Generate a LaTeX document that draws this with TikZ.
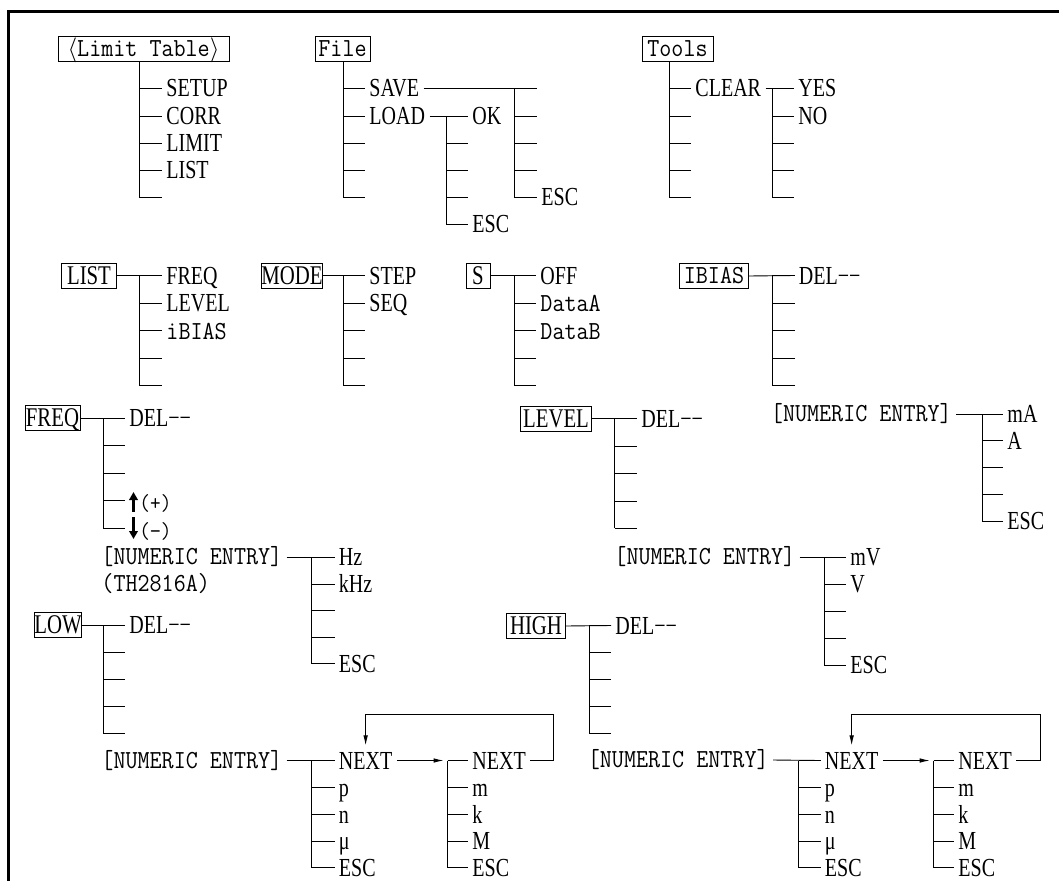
\documentclass[tikz,border=0pt]{standalone}
\usepackage{fontspec}
\setmainfont{Liberation Serif}[FakeStretch=0.77]
\setmonofont{Latin Modern Mono}[FakeStretch=0.9]
\usetikzlibrary{arrows.meta}

\begin{document}
\begin{tikzpicture}[x=1pt, y=-1pt, line width=0.9pt,
    box/.style={draw, line width=0.7pt, minimum height=25pt, inner sep=0pt,
      text height=17.9pt, text depth=0pt, font=\fontsize{27}{30}\selectfont},
    mbox/.style={box, text height=15.9pt, font=\ttfamily\fontsize{26}{30}\selectfont},
    item/.style={anchor=west, inner xsep=4pt, inner ysep=0pt,
      text height=17.2pt, text depth=0pt, font=\fontsize{26}{30}\selectfont},
    num/.style={item, text height=15.9pt, font=\ttfamily\fontsize{26}{30}\selectfont},
    sign/.style={item, inner xsep=2pt, text height=14pt, font=\ttfamily\fontsize{23}{25}\selectfont},
    nextarrow/.style={-{Latex[length=10pt,width=4.5pt]}},
    fatarrow/.style={line width=2.8pt, -{Triangle[length=8pt,width=8.5pt]}}]
  \useasboundingbox (0,0) rectangle (1059,881);

  % frame
  \draw[line width=3pt] (1059,11.5) -- (8.5,11.5) -- (8.5,881);

  % <Limit Table> menu
  \node[mbox, minimum width=171pt] (limtab) at (143.5,49) {$\langle$Limit Table$\rangle$};
  \coordinate (limtab-s) at (139,62);
  \foreach \y/\lab [count=\i] in {88/SETUP,116/CORR,143/LIMIT,170/LIST,197/{}} {
    \node[item] (limtab-\i) at (162,\y) {\lab};
    \draw (limtab-s |- limtab-\i.west) -- (limtab-\i.west);
  }
  \draw (limtab-s) -- (limtab-s |- limtab-5.west);

  % File menu
  \node[mbox, minimum width=55pt] (file) at (342.5,49) {File};
  \coordinate (file-s) at (343,62);
  \foreach \y/\lab [count=\i] in {88/SAVE,116/LOAD,143/{},170/{},197/{}} {
    \node[item] (file-\i) at (365,\y) {\lab};
    \draw (file-s |- file-\i.west) -- (file-\i.west);
  }
  \draw (file-s) -- (file-s |- file-5.west);

  % SAVE
  \coordinate (save-s) at (514,88);
  \foreach \y/\lab [count=\i] in {88/{},116/{},143/{},170/{},197/ESC} {
    \node[item] (save-\i) at (537,\y) {\lab};
    \draw (save-s |- save-\i.west) -- (save-\i.west);
  }
  \draw (file-1.east) -- (save-1.west);
  \draw (save-s) -- (save-s |- save-5.west);

  % LOAD
  \coordinate (load-s) at (446,116);
  \foreach \y/\lab [count=\i] in {116/OK,143/{},170/{},197/{},224/ESC} {
    \node[item] (load-\i) at (468,\y) {\lab};
    \draw (load-s |- load-\i.west) -- (load-\i.west);
  }
  \draw (file-2.east) -- (load-1.west);
  \draw (load-s) -- (load-s |- load-5.west);

  % Tools menu
  \node[mbox, minimum width=71pt] (tools) at (677.5,49) {Tools};
  \coordinate (tools-s) at (669,62);
  \foreach \y/\lab [count=\i] in {88/CLEAR,116/{},143/{},170/{},197/{}} {
    \node[item] (tools-\i) at (691,\y) {\lab};
    \draw (tools-s |- tools-\i.west) -- (tools-\i.west);
  }
  \draw (tools-s) -- (tools-s |- tools-5.west);

  % CLEAR
  \coordinate (clear-s) at (772,88);
  \foreach \y/\lab [count=\i] in {88/YES,116/NO,143/{},170/{},197/{}} {
    \node[item] (clear-\i) at (794,\y) {\lab};
    \draw (clear-s |- clear-\i.west) -- (clear-\i.west);
  }
  \draw (tools-1.east) -- (clear-1.west);
  \draw (clear-s) -- (clear-s |- clear-5.west);

  % LIST
  \node[box, minimum width=54.5pt] (list) at (89,275.5) {LIST};
  \coordinate (list-s) at (139.5,275.5);
  \foreach \y/\lab [count=\i] in {275.5/FREQ,303/LEVEL,330.5/{\ttfamily iBIAS},358/{},385.5/{}} {
    \node[item] (list-\i) at (162,\y) {\lab};
    \draw (list-s |- list-\i.west) -- (list-\i.west);
  }
  \draw (list.east) -- (list-1.west);
  \draw (list-s) -- (list-s |- list-5.west);

  % MODE
  \node[box, minimum width=54.5pt] (mode) at (292,275.5) {MODE};
  \coordinate (mode-s) at (343,275.5);
  \foreach \y/\lab [count=\i] in {275.5/STEP,303/SEQ,330.5/{},358/{},385.5/{}} {
    \node[item] (mode-\i) at (365,\y) {\lab};
    \draw (mode-s |- mode-\i.west) -- (mode-\i.west);
  }
  \draw (mode.east) -- (mode-1.west);
  \draw (mode-s) -- (mode-s |- mode-5.west);

  % S
  \node[box, minimum width=24pt] (sfun) at (478,275.5) {S};
  \coordinate (sfun-s) at (514,275.5);
  \foreach \y/\lab [count=\i] in {275.5/OFF,303/{\ttfamily DataA},330.5/{\ttfamily DataB},358/{},385.5/{}} {
    \node[item] (sfun-\i) at (536,\y) {\lab};
    \draw (sfun-s |- sfun-\i.west) -- (sfun-\i.west);
  }
  \draw (sfun.east) -- (sfun-1.west);
  \draw (sfun-s) -- (sfun-s |- sfun-5.west);

  % IBIAS
  \node[mbox, minimum width=68.6pt] (ibias) at (714,276) {IBIAS};
  \coordinate (ibias-s) at (772,275.5);
  \foreach \y/\lab [count=\i] in {275.5/DEL−−,303/{},330.5/{},358/{},385.5/{}} {
    \node[item] (ibias-\i) at (794.5,\y) {\lab};
    \draw (ibias-s |- ibias-\i.west) -- (ibias-\i.west);
  }
  \draw (ibias.east) -- (ibias-1.west);
  \draw (ibias-s) -- (ibias-s |- ibias-5.west);

  % IBIAS numeric entry
  \node[num] (inum) at (766.5,414) {[NUMERIC ENTRY]};
  \coordinate (ia-s) at (982,414);
  \foreach \y/\lab [count=\i] in {414/mA,440.5/A,467/{},494/{},521/ESC} {
    \node[item] (ia-\i) at (1003,\y) {\lab};
    \draw (ia-s |- ia-\i.west) -- (ia-\i.west);
  }
  \draw (inum.east) -- (ia-1.west);
  \draw (ia-s) -- (ia-s |- ia-5.west);

  % FREQ
  \node[box, minimum width=55pt] (freq) at (52.5,418) {FREQ};
  \coordinate (freq-s) at (103,418);
  \foreach \y/\lab [count=\i] in {418/DEL−−,445.5/{},473/{},500.5/{},528/{}} {
    \node[item] (freq-\i) at (125,\y) {\lab};
    \draw (freq-s |- freq-\i.west) -- (freq-\i.west);
  }
  \draw (freq.east) -- (freq-1.west);
  \draw (freq-s) -- (freq-s |- freq-5.west);
  \draw[fatarrow] ([xshift=8.5pt,yshift=-11pt]freq-4.west) -- ([xshift=8.5pt,yshift=8.5pt]freq-4.west);
  \draw[fatarrow] ([xshift=8.5pt,yshift=11pt]freq-5.west) -- ([xshift=8.5pt,yshift=-11pt]freq-5.west);
  \node[sign] (plus) at ([xshift=12pt,yshift=-3pt]freq-4.west) {(+)};
  \node[sign] (minus) at ([xshift=12pt,yshift=-3pt]freq-5.west) {(−)};

  % FREQ numeric entry
  \node[num] (fnum) at (97,557) {[NUMERIC ENTRY]};
  \node[num] (fmodel) at (97,584) {(TH2816A)};
  \coordinate (fhz-s) at (311,557);
  \foreach \y/\lab [count=\i] in {557/Hz,584/kHz,610.5/{},637/{},663.5/ESC} {
    \node[item] (fhz-\i) at (334.5,\y) {\lab};
    \draw (fhz-s |- fhz-\i.west) -- (fhz-\i.west);
  }
  \draw (fnum.east) -- (fhz-1.west);
  \draw (fhz-s) -- (fhz-s |- fhz-5.west);

  % LEVEL
  \node[box, minimum width=70.5pt] (level) at (556,418.5) {LEVEL};
  \coordinate (level-s) at (614.5,418.5);
  \foreach \y/\lab [count=\i] in {418.5/DEL−−,446/{},473.5/{},501/{},528/{}} {
    \node[item] (level-\i) at (637,\y) {\lab};
    \draw (level-s |- level-\i.west) -- (level-\i.west);
  }
  \draw (level.east) -- (level-1.west);
  \draw (level-s) -- (level-s |- level-5.west);

  % LEVEL numeric entry
  \node[num] (lnum) at (610,557) {[NUMERIC ENTRY]};
  \coordinate (lv-s) at (824,557);
  \foreach \y/\lab [count=\i] in {557/mV,584/V,611/{},638/{},665/ESC} {
    \node[item] (lv-\i) at (846,\y) {\lab};
    \draw (lv-s |- lv-\i.west) -- (lv-\i.west);
  }
  \draw (lnum.east) -- (lv-1.west);
  \draw (lv-s) -- (lv-s |- lv-5.west);

  % LOW
  \node[box, minimum width=44.5pt] (low) at (58,625) {LOW};
  \coordinate (low-s) at (103,625);
  \foreach \y/\lab [count=\i] in {625/DEL−−,652/{},679/{},706/{},733/{}} {
    \node[item] (low-\i) at (125,\y) {\lab};
    \draw (low-s |- low-\i.west) -- (low-\i.west);
  }
  \draw (low.east) -- (low-1.west);
  \draw (low-s) -- (low-s |- low-5.west);

  % LOW numeric entry
  \node[num] (lownum) at (97,760.5) {[NUMERIC ENTRY]};
  \coordinate (lp-s) at (311,760.5);
  \foreach \y/\lab [count=\i] in {760.5/NEXT,787.5/p,814.5/n,841/μ,867.5/ESC} {
    \node[item] (lp-\i) at (334.5,\y) {\lab};
    \draw (lp-s |- lp-\i.west) -- (lp-\i.west);
  }
  \draw (lownum.east) -- (lp-1.west);
  \draw (lp-s) -- (lp-s |- lp-5.west);
  \coordinate (lm-s) at (447.6,760.5);
  \foreach \y/\lab [count=\i] in {760.5/NEXT,787.5/m,814.5/k,841/M,867.5/ESC} {
    \node[item] (lm-\i) at (468,\y) {\lab};
    \draw (lm-s |- lm-\i.west) -- (lm-\i.west);
  }
  \draw (lm-s) -- (lm-s |- lm-5.west);
  \draw[nextarrow, shorten >=4pt] (lp-1.east) -- (lm-s);
  \coordinate (lloop) at (553,714);
  \draw[nextarrow] (lm-1.east) -- (lm-1.east -| lloop) -- (lloop) -- (lloop -| lp-1.north) -- ([yshift=6pt]lp-1.north);

  % HIGH
  \node[box, minimum width=58.5pt] (high) at (536,626) {HIGH};
  \coordinate (high-s) at (589,625.5);
  \foreach \y/\lab [count=\i] in {625.5/DEL−−,652.5/{},679.5/{},706/{},733/{}} {
    \node[item] (high-\i) at (611,\y) {\lab};
    \draw (high-s |- high-\i.west) -- (high-\i.west);
  }
  \draw (high.east) -- (high-1.west);
  \draw (high-s) -- (high-s |- high-5.west);

  % HIGH numeric entry
  \node[num] (hinum) at (583.4,760) {[NUMERIC ENTRY]};
  \coordinate (hp-s) at (798.6,760.5);
  \foreach \y/\lab [count=\i] in {760.5/NEXT,787.5/p,814.5/n,841/μ,867.5/ESC} {
    \node[item] (hp-\i) at (820.5,\y) {\lab};
    \draw (hp-s |- hp-\i.west) -- (hp-\i.west);
  }
  \draw (hinum.east) -- (hp-1.west);
  \draw (hp-s) -- (hp-s |- hp-5.west);
  \coordinate (hm-s) at (933.7,760.5);
  \foreach \y/\lab [count=\i] in {760.5/NEXT,787.5/m,814.5/k,841/M,867.5/ESC} {
    \node[item] (hm-\i) at (954,\y) {\lab};
    \draw (hm-s |- hm-\i.west) -- (hm-\i.west);
  }
  \draw (hm-s) -- (hm-s |- hm-5.west);
  \draw[nextarrow, shorten >=4pt] (hp-1.east) -- (hm-s);
  \coordinate (hloop) at (1040,714);
  \draw[nextarrow] (hm-1.east) -- (hm-1.east -| hloop) -- (hloop) -- (hloop -| hp-1.north) -- ([yshift=6pt]hp-1.north);

\end{tikzpicture}
\end{document}
